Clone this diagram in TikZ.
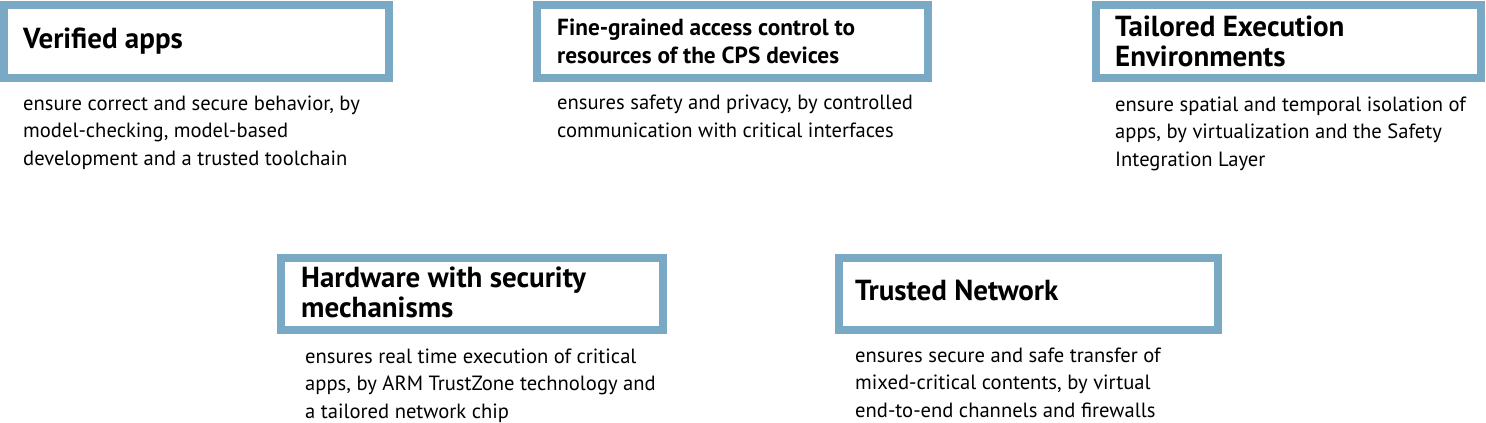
\documentclass[tikz,border=0pt]{standalone}
\usepackage{fontspec}
\setmainfont{PT Sans}
\definecolor{framecol}{HTML}{79A9C4}
\begin{document}
\begin{tikzpicture}[x=1pt,y=-1pt,
  frame/.style={draw=framecol,line width=8pt,fill=white},
  titletext/.style={anchor=base west,inner sep=0pt,align=left,font=\fontsize{29}{29.5}\selectfont\bfseries},
  smalltitle/.style={anchor=base west,inner sep=0pt,align=left,font=\fontsize{23.3}{28}\selectfont\bfseries},
  bodytext/.style={anchor=base west,inner sep=0pt,align=left,font=\fontsize{20.6}{27.5}\selectfont}]
\useasboundingbox (0,0) rectangle (1486,423);
% frames
\path[frame] (4,5) rectangle (389,78) coordinate (f1);
\path[frame] (537,5) rectangle (928,78) coordinate (f2);
\path[frame] (1096,5) rectangle (1481,78) coordinate (f3);
\path[frame] (281,258) rectangle (663,330) coordinate (f4);
\path[frame] (839,258) rectangle (1218,330) coordinate (f5);
% titles (anchor at baseline of last line)
\node[titletext] (t1) at (23,48) {Verified apps};
\node[smalltitle] (t2) at (557,63) {Fine-grained access control to\\resources of the CPS devices};
\node[titletext] (t3) at (1115,66) {Tailored Execution\\Environments};
\node[titletext] (t4) at (301,317) {Hardware with security\\mechanisms};
\node[titletext] (t5) at (855,300) {Trusted Network};
% descriptions (anchor at baseline of last line)
\node[bodytext] (d1) at (23,165) {ensure correct and secure behavior, by\\model-checking, model-based\\development and a trusted toolchain};
\node[bodytext] (d2) at (557,137) {ensures safety and privacy, by controlled\\communication with critical interfaces};
\node[bodytext] (d3) at (1115,166) {ensure spatial and temporal isolation of\\apps, by virtualization and the Safety\\Integration Layer};
\node[bodytext] (d4) at (305,418) {ensures real time execution of critical\\apps, by ARM TrustZone technology and\\a tailored network chip};
\node[bodytext] (d5) at (855,417) {ensures secure and safe transfer of\\mixed-critical contents, by virtual\\end-to-end channels and firewalls};
\end{tikzpicture}
\end{document}
